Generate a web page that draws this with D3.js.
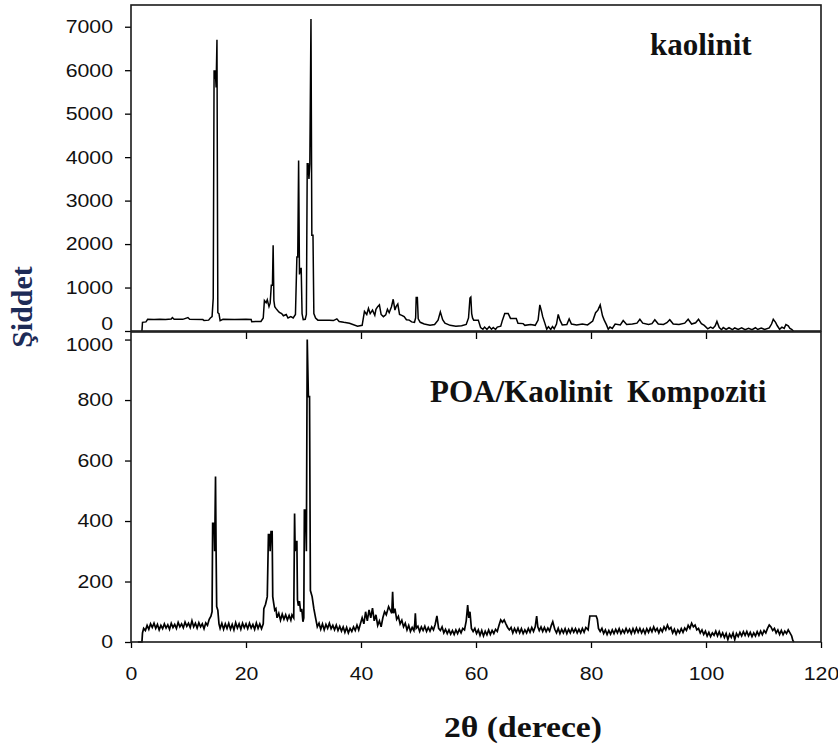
<!DOCTYPE html>
<html>
<head>
<meta charset="utf-8">
<script src="https://cdn.jsdelivr.net/npm/d3@7"></script>
<style>
  body { margin: 0; background: #fff; }
  svg { display: block; }
</style>
</head>
<body>
<svg id="chart" width="838" height="746"></svg>
<script>
// XRD pattern of kaolinite: [2θ (degrees), intensity]
const kaolinitPattern = [
  [1.9,0],[2.0,200],[2.6,210],[2.9,270],[4,265],[5,270],[6,262],[7,275],[7.2,310],[7.5,270],[9,268],[9.9,310],[10.2,270],
  [12.5,262],[12.7,240],[13.5,250],[13.8,300],[14.1,330],[14.3,750],[14.45,6000],[14.55,5800],[14.65,6000],[14.8,5600],
  [14.95,6700],[15.1,420],[15.3,400],[15.5,240],[16,270],[18,265],[20,270],[20.9,265],[21,215],[22.6,220],[23,300],
  [23.2,700],[23.5,650],[23.7,720],[24,560],[24.2,640],[24.4,1050],[24.6,1050],[24.72,1975],[24.85,700],[25.0,560],
  [25.2,520],[25.5,470],[25.8,430],[26.2,400],[26.5,350],[27,380],[27.3,300],[27.8,330],[28.2,300],[28.6,380],
  [28.85,1700],[29.0,1700],[29.15,3925],[29.3,1300],[29.45,1440],[29.6,1440],[29.75,400],[29.95,260],[30.3,270],
  [30.5,380],[30.65,3850],[30.8,3850],[30.95,3500],[31.1,3850],[31.3,7180],[31.45,2200],[31.65,2200],[31.8,400],
  [32.1,300],[32.5,250],[34.5,250],[35.2,240],[35.8,280],[36.2,220],[37,200],[38,180],[39.4,110],[40.2,130],
  [40.6,450],[41.0,380],[41.3,520],[41.6,400],[42.0,480],[42.4,360],[42.6,500],[42.9,560],[43.2,600],[43.5,380],
  [43.9,330],[44.3,370],[44.6,500],[44.9,420],[45.3,560],[45.6,730],[45.9,480],[46.1,560],[46.4,620],[46.7,380],
  [47.1,360],[47.5,330],[47.9,260],[48.4,250],[48.8,210],[49.3,200],[49.5,300],[49.6,770],[49.8,770],[49.95,280],
  [50.3,200],[51,160],[52,130],[52.8,150],[53.4,250],[53.8,440],[54.2,260],[54.6,180],[55.5,130],[56.5,110],
  [57.5,120],[58.3,150],[58.7,300],[58.95,760],[59.1,780],[59.25,400],[59.4,300],[59.6,250],[60.4,250],[60.8,80],
  [61.2,40],[61.5,90],[61.9,35],[62.3,100],[62.7,40],[63,80],[63.4,35],[63.7,90],[64.3,110],[64.6,250],[65.0,400],
  [65.6,400],[66.0,290],[67.0,290],[67.3,180],[68.2,170],[68.5,130],[69.5,150],[70.3,130],[70.8,250],[71.1,600],
  [71.4,450],[71.6,330],[72.0,170],[72.3,40],[72.6,100],[73.0,35],[73.3,100],[73.6,50],[74.0,160],[74.3,380],
  [74.6,250],[75.0,140],[75.8,150],[76.2,280],[76.6,160],[77.5,140],[78.5,160],[79.4,140],[80.3,230],[80.8,420],
  [81.2,480],[81.6,600],[82.0,350],[82.3,250],[82.7,140],[83.0,40],[83.3,90],[83.7,60],[84.2,160],[85.1,140],
  [85.6,240],[86.2,150],[87.2,160],[88.0,180],[88.5,270],[89.0,180],[90.0,150],[90.6,170],[91.1,260],[91.7,160],
  [92.6,150],[93.2,190],[93.7,260],[94.3,160],[95.3,150],[96.3,180],[96.9,270],[97.5,160],[98.2,190],[98.7,270],
  [99.2,170],[99.7,130],[100.3,50],[100.8,90],[101.2,60],[101.6,120],[101.9,220],[102.3,80],[102.7,30],[103,80],
  [103.5,35],[104,75],[104.6,30],[105,70],[105.6,35],[106.2,75],[106.8,30],[107.4,60],[108,30],[108.6,75],[109,35],
  [109.6,70],[110.2,35],[111,70],[111.4,160],[111.7,270],[112.1,200],[112.4,120],[112.8,40],[113.2,90],[113.6,60],
  [113.9,150],[114.3,120],[114.6,60],[114.9,40],[115.2,0]
];

// XRD pattern of the POA/kaolinite composite: [2θ (degrees), intensity]
const compositePattern = [
  [1.2,0],[1.9,0],[2.0,30],[2.2,45],[2.5,38],[2.8,55],[3.1,42],[3.4,60],[3.7,48],[4.0,62],[4.3,45],[4.6,58],[4.9,40],
  [5.2,55],[5.5,44],[5.8,60],[6.1,46],[6.4,57],[6.7,42],[7.0,62],[7.3,48],[7.6,58],[7.9,45],[8.2,65],[8.5,50],
  [8.8,60],[9.1,47],[9.4,66],[9.7,52],[10.0,62],[10.3,48],[10.6,70],[10.9,50],[11.2,62],[11.5,46],[11.8,64],
  [12.1,50],[12.4,60],[12.7,44],[13.0,63],[13.3,55],[13.6,75],[13.9,85],[14.1,100],[14.2,392],[14.45,392],
  [14.55,300],[14.7,547],[14.8,300],[14.9,117],[15.1,105],[15.3,60],[15.5,45],[15.8,62],[16.1,42],[16.4,60],
  [16.7,45],[17.0,62],[17.3,42],[17.6,58],[17.9,40],[18.2,64],[18.5,46],[18.8,60],[19.1,42],[19.4,62],[19.7,47],
  [20.0,60],[20.3,44],[20.6,62],[20.9,46],[21.2,58],[21.5,42],[21.8,63],[22.1,45],[22.4,60],[22.7,44],[23.0,60],
  [23.1,110],[23.4,125],[23.7,150],[23.9,355],[24.1,355],[24.2,300],[24.35,365],[24.55,365],[24.65,150],[24.8,130],
  [25.0,105],[25.2,110],[25.4,80],[25.7,95],[26.0,72],[26.3,92],[26.6,75],[26.9,90],[27.2,73],[27.5,88],[27.8,72],
  [28.0,90],[28.3,80],[28.45,425],[28.55,300],[28.7,332],[28.85,332],[28.95,140],[29.1,120],[29.3,135],[29.5,100],
  [29.7,110],[29.9,67],[30.05,80],[30.15,436],[30.35,436],[30.5,300],[30.65,1000],[30.85,811],[31.05,811],
  [31.2,170],[31.5,150],[31.8,110],[32.1,80],[32.4,50],[32.7,62],[33.0,42],[33.3,60],[33.6,40],[33.9,58],[34.2,45],
  [34.5,62],[34.8,44],[35.1,55],[35.4,40],[35.7,56],[36.0,38],[36.3,52],[36.6,36],[36.9,50],[37.2,32],[37.5,48],
  [37.8,30],[38.1,45],[38.4,35],[38.7,50],[39.0,38],[39.3,56],[39.6,40],[39.9,60],[40.2,80],[40.5,60],[40.8,100],
  [41.1,70],[41.4,106],[41.7,80],[42.0,112],[42.3,70],[42.6,90],[42.9,55],[43.2,70],[43.5,50],[43.8,80],[44.1,100],
  [44.4,90],[44.8,117],[45.1,105],[45.35,95],[45.5,166],[45.65,95],[45.9,110],[46.2,75],[46.5,85],[46.8,60],
  [47.1,72],[47.4,50],[47.7,62],[48.0,40],[48.3,55],[48.6,35],[48.9,48],[49.2,38],[49.35,60],[49.45,95],[49.6,45],
  [49.9,52],[50.2,35],[50.5,50],[50.8,38],[51.1,52],[51.4,35],[51.7,48],[52.0,36],[52.3,50],[52.6,40],[52.9,58],
  [53.2,86],[53.5,45],[53.8,38],[54.1,50],[54.4,30],[54.7,42],[55.0,28],[55.3,40],[55.6,26],[55.9,38],[56.2,25],
  [56.5,40],[56.8,28],[57.1,42],[57.4,30],[57.7,45],[58.0,40],[58.3,70],[58.55,122],[58.75,80],[58.95,100],
  [59.2,45],[59.5,35],[59.8,45],[60.1,28],[60.4,40],[60.7,22],[61.0,38],[61.3,20],[61.6,36],[61.9,24],[62.2,40],
  [62.5,25],[62.8,38],[63.1,28],[63.4,42],[63.7,35],[64.0,55],[64.3,73],[64.6,65],[64.9,73],[65.2,60],[65.5,48],
  [65.8,40],[66.1,48],[66.4,30],[66.7,45],[67.0,32],[67.3,46],[67.6,30],[67.9,44],[68.2,28],[68.5,40],[68.8,30],
  [69.1,45],[69.4,32],[69.7,48],[70.0,35],[70.3,50],[70.55,86],[70.75,50],[71.0,38],[71.3,50],[71.6,35],[71.9,48],
  [72.2,34],[72.5,46],[72.8,36],[73.1,55],[73.35,67],[73.7,42],[74.0,30],[74.3,45],[74.6,28],[74.9,42],[75.2,30],
  [75.5,44],[75.8,28],[76.1,42],[76.4,30],[76.7,45],[77.0,32],[77.3,44],[77.6,30],[77.9,42],[78.2,30],[78.5,45],
  [78.8,32],[79.1,48],[79.5,40],[79.8,86],[80.3,86],[80.9,86],[81.1,75],[81.3,45],[81.6,35],[81.9,45],[82.2,28],
  [82.5,40],[82.8,25],[83.1,38],[83.4,26],[83.7,40],[84.0,28],[84.3,42],[84.6,30],[84.9,44],[85.2,28],[85.5,40],
  [85.8,30],[86.1,45],[86.4,32],[86.7,42],[87.0,28],[87.3,44],[87.6,30],[87.9,46],[88.2,32],[88.5,45],[88.8,30],
  [89.1,42],[89.4,28],[89.7,44],[90.0,32],[90.3,46],[90.6,34],[90.9,50],[91.2,36],[91.5,45],[91.8,30],[92.1,44],
  [92.4,34],[92.7,50],[93.0,40],[93.3,56],[93.6,42],[93.9,48],[94.2,30],[94.5,42],[94.8,26],[95.1,40],[95.4,30],
  [95.7,44],[96.0,32],[96.3,46],[96.6,38],[96.9,55],[97.2,45],[97.5,62],[97.8,50],[98.1,56],[98.4,40],[98.7,45],
  [99.0,30],[99.3,40],[99.6,25],[99.9,36],[100.2,20],[100.5,32],[100.8,18],[101.1,30],[101.4,22],[101.7,36],
  [102.0,20],[102.3,34],[102.6,18],[102.9,30],[103.2,15],[103.5,28],[103.8,8],[104.1,26],[104.4,15],[104.7,30],
  [105.0,8],[105.3,28],[105.6,18],[105.9,32],[106.2,20],[106.5,34],[106.8,22],[107.1,35],[107.4,20],[107.7,32],
  [108.0,18],[108.3,30],[108.6,20],[108.9,34],[109.2,22],[109.5,36],[109.8,24],[110.1,38],[110.4,30],[110.7,45],
  [111.0,56],[111.3,50],[111.6,38],[111.9,45],[112.2,30],[112.5,40],[112.8,25],[113.1,38],[113.4,24],[113.7,36],
  [114.0,28],[114.3,40],[114.6,30],[114.9,20],[115.1,5],[115.3,0]
];

const thetaTicks = [0, 20, 40, 60, 80, 100, 120];
const kaolinitTicks = [0, 1000, 2000, 3000, 4000, 5000, 6000, 7000];
const compositeTicks = [0, 200, 400, 600, 800, 1000];
const kaolinitTitle = "kaolinit";
const compositeTitle = ["POA/Kaolinit", "Kompoziti"];
const xAxisTitle = "2θ (derece)";
const yAxisTitle = "Şiddet";

const svg = d3.select("#chart");

const left = 131, right = 821;
const topPanel = { top: 5, bottom: 331 };
const bottomPanel = { top: 332, bottom: 642 };

const x = d3.scaleLinear().domain([0, 120]).range([left, right]);
const yTop = d3.scaleLinear().domain([0, 7500]).range([topPanel.bottom, topPanel.top]);
const yBottom = d3.scaleLinear().domain([0, 1025]).range([bottomPanel.bottom, bottomPanel.top]);

const tickFont = "'Liberation Sans', Arial, sans-serif";
const titleFont = "'Liberation Serif', 'Times New Roman', serif";

// widen tick labels slightly, as in the original plotting software's output
function widen(sel, factor) {
  sel.each(function () {
    const w = this.getComputedTextLength();
    d3.select(this).attr("textLength", w * factor).attr("lengthAdjust", "spacingAndGlyphs");
  });
}

function styleAxis(g) {
  g.select(".domain").remove();
  g.selectAll(".tick line").attr("stroke", "#000").attr("stroke-width", 1.3);
  g.selectAll(".tick text")
    .attr("fill", "#111")
    .style("font-family", tickFont)
    .style("font-size", "18.5px");
}

// Data lines
const line = (yScale) => d3.line().x(d => x(d[0])).y(d => yScale(d[1]));

svg.append("path")
  .datum(kaolinitPattern)
  .attr("d", line(yTop))
  .attr("fill", "none")
  .attr("stroke", "#000")
  .attr("stroke-width", 1.5)
  .attr("stroke-linejoin", "miter");

svg.append("path")
  .datum(compositePattern)
  .attr("d", line(yBottom))
  .attr("fill", "none")
  .attr("stroke", "#000")
  .attr("stroke-width", 1.7)
  .attr("stroke-linejoin", "miter");

// Y axes
const yTopAxis = svg.append("g")
  .attr("transform", `translate(${left},0)`)
  .call(d3.axisLeft(yTop).tickValues(kaolinitTicks).tickSize(6).tickPadding(12).tickFormat(d3.format("d")))
  .call(styleAxis);
yTopAxis.selectAll(".tick text").filter(d => d === 0).attr("transform", "translate(0,-7)");

const yBottomAxis = svg.append("g")
  .attr("transform", `translate(${left},0)`)
  .call(d3.axisLeft(yBottom).tickValues(compositeTicks).tickSize(6).tickPadding(12).tickFormat(d3.format("d")))
  .call(styleAxis);
yBottomAxis.selectAll(".tick text").filter(d => d === 1000).attr("transform", "translate(0,5)");

// X axis at the bottom, plus inward ticks along the shared edge
svg.append("g")
  .attr("transform", `translate(0,${bottomPanel.bottom})`)
  .call(d3.axisBottom(x).tickValues(thetaTicks).tickSize(6).tickPadding(19))
  .call(styleAxis);

svg.append("g")
  .attr("transform", `translate(0,${bottomPanel.top})`)
  .call(d3.axisTop(x).tickValues(thetaTicks.slice(1, -1)).tickSize(-7).tickFormat(""))
  .call(styleAxis);

widen(svg.selectAll(".tick text"), 1.15);

// Panel frames
[topPanel, bottomPanel].forEach(p => {
  svg.append("rect")
    .attr("x", left).attr("y", p.top)
    .attr("width", right - left).attr("height", p.bottom - p.top)
    .attr("fill", "none")
    .attr("stroke", "#1a1a1a")
    .attr("stroke-width", 1.6);
});

// Panel titles
svg.append("text")
  .attr("x", 650).attr("y", 55)
  .style("font-family", titleFont).style("font-weight", "bold").style("font-size", "31px")
  .attr("fill", "#111")
  .text(kaolinitTitle);

svg.append("text")
  .attr("x", 430).attr("y", 402)
  .style("font-family", titleFont).style("font-weight", "bold").style("font-size", "31px")
  .attr("fill", "#111")
  .text(compositeTitle[0]);

svg.append("text")
  .attr("x", 627).attr("y", 402)
  .style("font-family", titleFont).style("font-weight", "bold").style("font-size", "31px")
  .attr("fill", "#111")
  .text(compositeTitle[1]);

// Axis titles
svg.append("text")
  .attr("x", 444).attr("y", 737)
  .style("font-family", titleFont).style("font-weight", "bold").style("font-size", "29px")
  .attr("fill", "#111")
  .attr("textLength", 158).attr("lengthAdjust", "spacingAndGlyphs")
  .text(xAxisTitle);

svg.append("text")
  .attr("transform", "translate(32,307) rotate(-90)")
  .attr("text-anchor", "middle")
  .style("font-family", titleFont).style("font-weight", "bold").style("font-size", "30px")
  .attr("fill", "#1d2b57")
  .text(yAxisTitle);
</script>
</body>
</html>
